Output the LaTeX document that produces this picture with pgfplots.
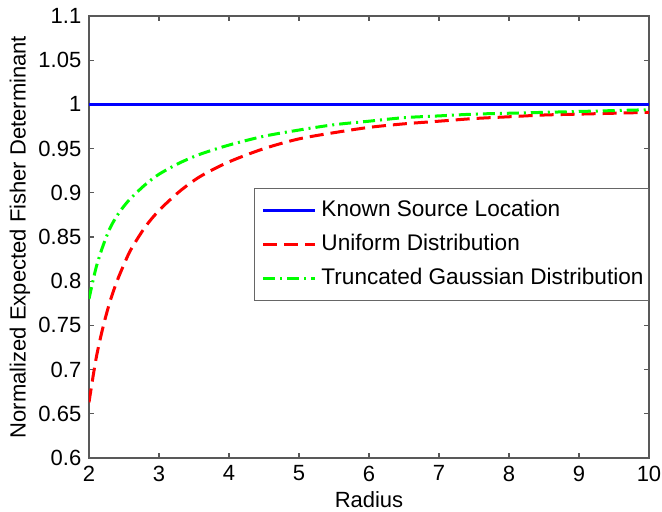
\documentclass[border=0pt]{standalone}
\usepackage{fontspec}
\setmainfont{Liberation Sans}
\usepackage{pgfplots}
\pgfplotsset{compat=1.18}

\definecolor{mblue}{rgb}{0,0,1}
\definecolor{mred}{rgb}{1,0,0}
\definecolor{mgreen}{rgb}{0,1,0}

\begin{document}
\begin{tikzpicture}
\fontsize{11}{13}\selectfont
\useasboundingbox (-44.5pt,-27pt) rectangle (286.5pt,229pt);
\begin{axis}[
    scale only axis, width=280pt, height=221pt,
    xmin=2, xmax=10, ymin=0.6, ymax=1.1,
    xtick={2,3,...,10},
    ytick={0.6,0.65,...,1.1},
    yticklabels={0.6,0.65,0.7,0.75,0.8,0.85,0.9,0.95,1,1.05,1.1},
    /pgf/number format/assume math mode=true,
    tick align=inside, tickpos=both,
    major tick length=2.5pt,
    axis line style={black!65, line width=0.6pt},
    tick style={black!65, line width=0.6pt},
    ticklabel style={font=\fontsize{11}{13}\selectfont},
    xlabel={Radius},
    ylabel={Normalized Expected Fisher Determinant},
    xlabel style={at={(axis description cs:0.5,-0.095)}, anchor=center},
    ylabel style={at={(axis description cs:-0.1232,0.5)}, anchor=center},
    label style={font=\fontsize{11}{13}\selectfont},
    legend style={at={(rel axis cs:1,0.6115)}, anchor=north east,
        draw=black!60, line width=0.5pt, font=\fontsize{11.3}{13}\selectfont,
        row sep=3.2pt, inner xsep=0.5pt, inner ysep=4pt},
    legend cell align=left,
    legend image code/.code={
        \draw[#1] (4pt,0pt) -- (30pt,0pt);
        \path[draw=none] (0pt,0pt) (31pt,0pt);
    },
]
\addplot[mblue, line width=1.5pt] coordinates {(2,1) (10,1)};
\addlegendentry{Known Source Location}

\addplot[mred, line width=1.5pt, dash pattern=on 7pt off 3.5pt, smooth] coordinates {
(2.0,0.663) (2.1,0.712) (2.2,0.748) (2.3,0.777) (2.4,0.800) (2.5,0.819)
(2.6,0.836) (2.8,0.861) (3.0,0.880) (3.3,0.902) (3.6,0.919) (4.0,0.935)
(4.5,0.950) (5.0,0.961) (5.5,0.968) (6.0,0.974) (6.5,0.978) (7.0,0.981)
(7.5,0.984) (8.0,0.986) (8.5,0.988) (9.0,0.989) (9.5,0.990) (10.0,0.991)};
\addlegendentry{Uniform Distribution}

\addplot[mgreen, line width=1.5pt, dash pattern=on 6pt off 2.5pt on 1pt off 2.5pt, smooth] coordinates {
(2.0,0.780) (2.1,0.815) (2.2,0.840) (2.3,0.860) (2.4,0.874) (2.5,0.885)
(2.6,0.894) (2.8,0.909) (3.0,0.921) (3.3,0.934) (3.6,0.944) (4.0,0.954)
(4.5,0.964) (5.0,0.971) (5.5,0.977) (6.0,0.981) (6.5,0.985) (7.0,0.987)
(7.5,0.989) (8.0,0.990) (8.5,0.991) (9.0,0.992) (9.5,0.993) (10.0,0.994)};
\addlegendentry{Truncated Gaussian Distribution}
\end{axis}
\end{tikzpicture}
\end{document}
